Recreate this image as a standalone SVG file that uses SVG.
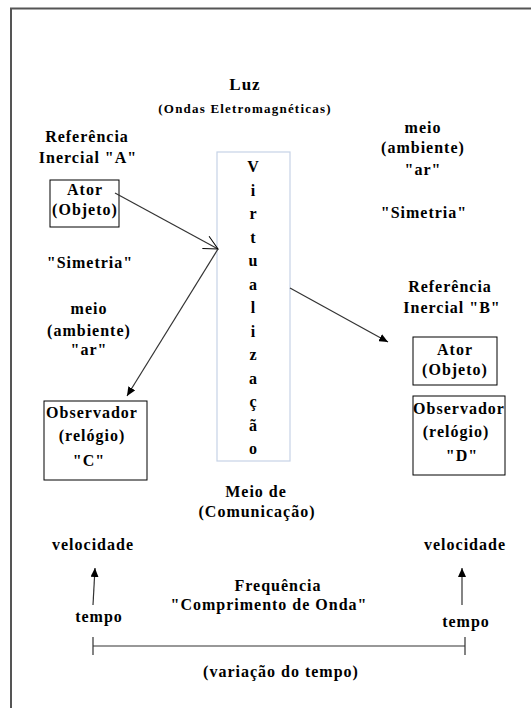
<svg xmlns="http://www.w3.org/2000/svg" width="531" height="708" viewBox="0 0 531 708">
<style>
text{font-weight:bold;font-size:16px;fill:#000;text-anchor:middle;letter-spacing:1px}
.small{font-size:13px;letter-spacing:1.2px}
.big{font-size:17px}
.box{fill:#fff;stroke:#000;stroke-width:1}
.conn{stroke:#333;stroke-width:1.2;fill:none}
.v{font-size:16px;letter-spacing:0}
</style>
<defs>
<marker id="filled" markerWidth="10" markerHeight="8" refX="9" refY="4" orient="auto" markerUnits="userSpaceOnUse">
<path d="M0,0 L9,4 L0,8 Z" fill="#000"/>
</marker>
<marker id="open" markerWidth="16" markerHeight="16" refX="15" refY="8" orient="auto" markerUnits="userSpaceOnUse">
<path d="M1,1 L15,8 L1,15" fill="none" stroke="#000" stroke-width="1"/>
</marker>
</defs>
<rect width="531" height="708" fill="#fff"/>
<path id="frame" d="M11,708 L11,8.5 L531,8.5" fill="none" stroke="#555" stroke-width="2"/>

<g font-family="'Liberation Serif', 'DejaVu Serif', serif">
<g id="titulo">
<text class="big" x="245" y="90">Luz</text>
<text class="small" x="245" y="113">(Ondas Eletromagnéticas)</text>
</g>

<g id="refA">
<text x="87" y="142">Referência</text>
<text x="88" y="163">Inercial "A"</text>
</g>
<g id="atorA">
<rect class="box" x="50" y="180" width="69" height="47"/>
<text x="85" y="195">Ator</text>
<text x="85" y="215">(Objeto)</text>
</g>
<g id="simetriaA"><text x="90" y="268">"Simetria"</text></g>
<g id="meioA">
<text x="89" y="314">meio</text>
<text x="89" y="336">(ambiente)</text>
<text x="89" y="355">"ar"</text>
</g>
<g id="observadorC">
<rect class="box" x="44" y="401" width="103" height="79"/>
<text x="92" y="418">Observador</text>
<text x="92" y="441">(relógio)</text>
<text x="89" y="466">"C"</text>
</g>

<g id="virtualizacao">
<rect x="217" y="152" width="73" height="309" fill="#fff" stroke="#c6d3e6" stroke-width="1.2"/>
<text class="v" x="253" y="172">V</text>
<text class="v" x="253" y="195.5">i</text>
<text class="v" x="253" y="219">r</text>
<text class="v" x="253" y="242.5">t</text>
<text class="v" x="253" y="266">u</text>
<text class="v" x="253" y="289.5">a</text>
<text class="v" x="253" y="313">l</text>
<text class="v" x="253" y="336.5">i</text>
<text class="v" x="253" y="360">z</text>
<text class="v" x="253" y="383.5">a</text>
<text class="v" x="253" y="407">ç</text>
<text class="v" x="253" y="430.5">ã</text>
<text class="v" x="253" y="454">o</text>
</g>

<g id="meioB">
<text x="423" y="133">meio</text>
<text x="423" y="153">(ambiente)</text>
<text x="423" y="175">"ar"</text>
</g>
<g id="simetriaB"><text x="424" y="218">"Simetria"</text></g>
<g id="refB">
<text x="450" y="292">Referência</text>
<text x="452" y="313">Inercial "B"</text>
</g>
<g id="atorB">
<rect class="box" x="413" y="337" width="84" height="48"/>
<text x="455" y="355">Ator</text>
<text x="455" y="375">(Objeto)</text>
</g>
<g id="observadorD">
<rect class="box" x="413" y="396" width="92" height="79"/>
<text x="459" y="414">Observador</text>
<text x="456" y="437">(relógio)</text>
<text x="462" y="461">"D"</text>
</g>

<g id="meioComunicacao">
<text x="256" y="497">Meio de</text>
<text x="257" y="517">(Comunicação)</text>
</g>
<g id="velocidadeA"><text x="93" y="550">velocidade</text></g>
<g id="velocidadeB"><text x="465" y="550">velocidade</text></g>
<g id="frequencia">
<text x="278" y="591">Frequência</text>
<text x="269" y="610">"Comprimento de Onda"</text>
</g>
<g id="tempoA"><text x="99" y="622">tempo</text></g>
<g id="tempoB"><text x="466" y="627">tempo</text></g>
<g id="variacao"><text x="281" y="677">(variação do tempo)</text></g>
</g>

<g id="connectors">
<line class="conn" x1="115" y1="193" x2="218" y2="249" marker-end="url(#open)"/>
<line class="conn" x1="218" y1="249" x2="127" y2="396" marker-end="url(#filled)"/>
<line class="conn" x1="290" y1="288" x2="388" y2="342" marker-end="url(#filled)"/>
<line class="conn" x1="93" y1="605" x2="95" y2="568" marker-end="url(#filled)"/>
<line class="conn" x1="462" y1="605" x2="462" y2="568" marker-end="url(#filled)"/>
<path class="conn" d="M93,646 L465,646 M93,637 L93,655 M465,637 L465,655"/>
</g>
</svg>
